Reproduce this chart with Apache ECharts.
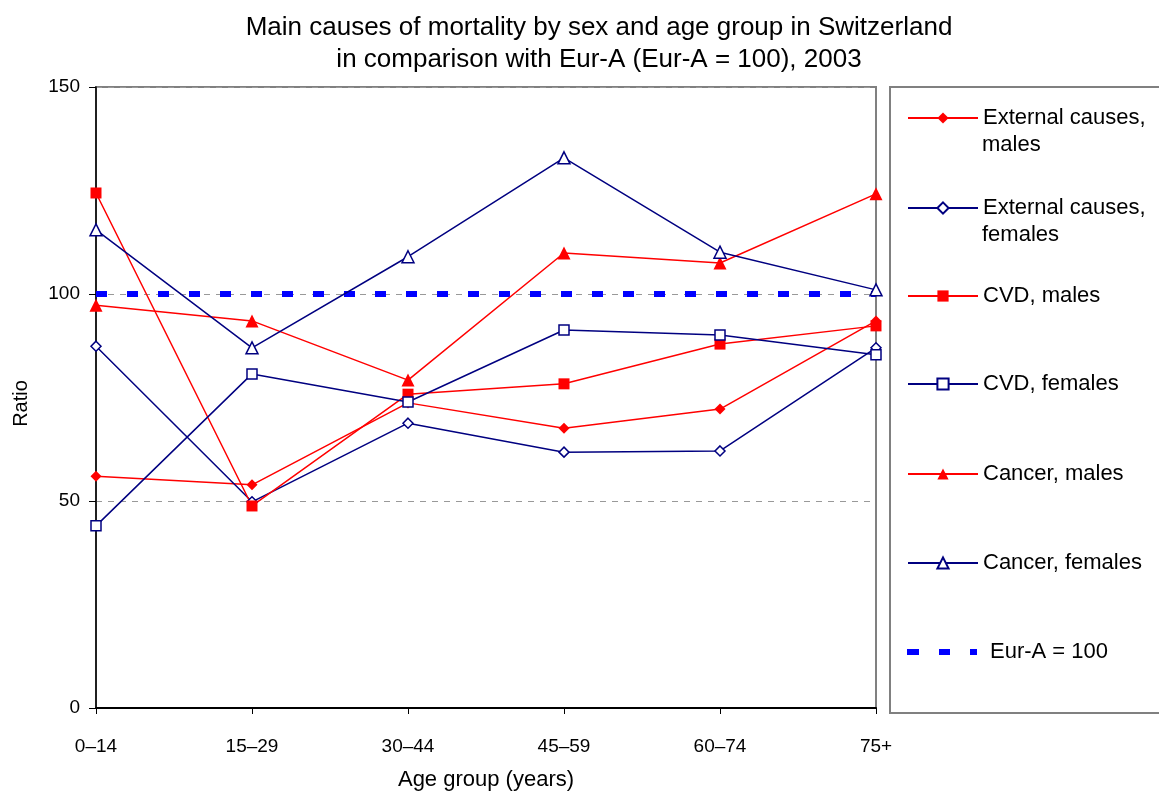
<!DOCTYPE html>
<html>
<head>
<meta charset="utf-8">
<script src="https://cdn.jsdelivr.net/npm/echarts@6/dist/echarts.min.js"></script>
<style>
html,body{margin:0;padding:0;background:#fff;}
#chart{width:1159px;height:792px;}
</style>
</head>
<body>
<div id="chart"></div>
<script>
const categories = ['0–14', '15–29', '30–44', '45–59', '60–74', '75+'];
const externalMales = [56.0, 53.9, 73.7, 67.6, 72.2, 93.5];
const externalFemales = [87.4, 49.8, 68.8, 61.8, 62.1, 87.0];
const cvdMales = [124.4, 48.8, 75.8, 78.3, 87.9, 92.3];
const cvdFemales = [44.0, 80.7, 73.9, 91.3, 90.1, 85.3];
const cancerMales = [97.3, 93.5, 79.2, 109.9, 107.5, 124.2];
const cancerFemales = [115.5, 87.0, 109.0, 132.9, 110.1, 101.0];
const eurA = [100, 100, 100, 100, 100, 100];
const yTicks = [0, 50, 100, 150];

const RED = '#FF0000', NAVY = '#000080', BLUE = '#0000FF';
const FONT = '"Liberation Sans", Arial, sans-serif';

function mkSeries(name, data, color, symbol, size, filled) {
  return {
    name: name, type: 'line', data: data,
    symbol: symbol, symbolSize: size, showSymbol: true,
    lineStyle: {color: color, width: 1.5},
    itemStyle: filled ? {color: color, borderColor: color, borderWidth: 0}
                      : {color: '#ffffff', borderColor: color, borderWidth: 1.5},
    emphasis: {disabled: true}, animation: false
  };
}

const names = ['External causes, males', 'External causes, females', 'CVD, males', 'CVD, females',
               'Cancer, males', 'Cancer, females', 'Eur-A = 100'];
const firstLine = {'External causes, males': 'External causes,',
                   'External causes, females': 'External causes,'};
const secondLine = {'External causes, males': 'males', 'External causes, females': 'females'};
const legendIconY = [118, 208, 296, 384, 474, 563, 652];

const legends = names.map((n, i) => {
  const isRef = n === 'Eur-A = 100';
  const l = {
    data: [isRef ? {name: n, icon: 'path://M0,0H12V6H0Z M32,0H43V6H32Z M63,0H70V6H63Z'} : n],
    left: 907, top: legendIconY[i] - 13, orient: 'vertical', padding: 0,
    itemWidth: 70, itemHeight: isRef ? 6 : 14, itemGap: 6, selectedMode: false,
    formatter: (name) => firstLine[name] || name,
    textStyle: {fontFamily: FONT, fontSize: 22, color: '#000', lineHeight: 26,
                padding: [0, 0, 0, isRef ? 8 : 0]}
  };
  if (isRef) l.itemStyle = {color: BLUE, borderWidth: 0};
  return l;
});

const secondLineGraphics = names.map((n, i) => secondLine[n] ? {
  type: 'text', left: 982, top: legendIconY[i] + 29 - 13, silent: true,
  style: {text: secondLine[n], font: '22px ' + FONT, fill: '#000', textVerticalAlign: 'top'}
} : null).filter(Boolean);

const option = {
  backgroundColor: '#fff',
  animation: false,
  title: {
    text: 'Main causes of mortality by sex and age group in Switzerland\nin comparison with Eur-A (Eur-A = 100), 2003',
    left: 594, top: 7, textAlign: 'center',
    textStyle: {fontFamily: FONT, fontSize: 26, fontWeight: 'normal', color: '#000', lineHeight: 32}
  },
  legend: legends,
  graphic: [{
    type: 'rect', shape: {x: 890, y: 87, width: 300, height: 626},
    style: {fill: 'none', stroke: '#808080', lineWidth: 2}, silent: true
  }].concat(secondLineGraphics),
  grid: {left: 96, right: 283, top: 87, bottom: 84, show: true, borderColor: '#808080', borderWidth: 2,
         backgroundColor: '#fff', containLabel: false, outerBoundsMode: 'none'},
  xAxis: {
    type: 'category', data: categories, boundaryGap: false,
    name: 'Age group (years)', nameLocation: 'middle', nameGap: 61,
    nameTextStyle: {fontFamily: FONT, fontSize: 22, color: '#000'},
    axisLine: {lineStyle: {color: '#000', width: 2}},
    axisTick: {show: true, length: 6, lineStyle: {color: '#000'}},
    axisLabel: {fontFamily: FONT, fontSize: 19, color: '#000', margin: 29},
    splitLine: {show: false}
  },
  yAxis: {
    type: 'value', min: 0, max: 150, interval: 50,
    name: 'Ratio', nameLocation: 'middle', nameGap: 65, nameRotate: 90,
    nameTextStyle: {fontFamily: FONT, fontSize: 20, color: '#000', padding: [0, 12, 0, 0]},
    axisLine: {show: true, lineStyle: {color: '#000', width: 1.5}},
    axisTick: {show: true, length: 7, lineStyle: {color: '#000'}},
    axisLabel: {fontFamily: FONT, fontSize: 19, color: '#000', margin: 16,
                formatter: (v) => yTicks.includes(v) ? String(v) : ''},
    splitLine: {show: true, lineStyle: {color: '#999', type: [6, 6], width: 1}}
  },
  series: [
    {name: 'Eur-A = 100', type: 'line', data: eurA, symbol: 'none', showSymbol: false,
     lineStyle: {color: BLUE, width: 6, type: [11, 20]}, itemStyle: {color: BLUE},
     emphasis: {disabled: true}, animation: false, z: 1},
    mkSeries('External causes, males', externalMales, RED, 'diamond', 11, true),
    mkSeries('External causes, females', externalFemales, NAVY, 'diamond', 10, false),
    mkSeries('CVD, males', cvdMales, RED, 'rect', 11, true),
    mkSeries('CVD, females', cvdFemales, NAVY, 'rect', 10, false),
    mkSeries('Cancer, males', cancerMales, RED, 'triangle', 13, true),
    mkSeries('Cancer, females', cancerFemales, NAVY, 'triangle', 12, false)
  ]
};

const chart = echarts.init(document.getElementById('chart'), null, {renderer: 'canvas'});
chart.setOption(option);
</script>
</body>
</html>
